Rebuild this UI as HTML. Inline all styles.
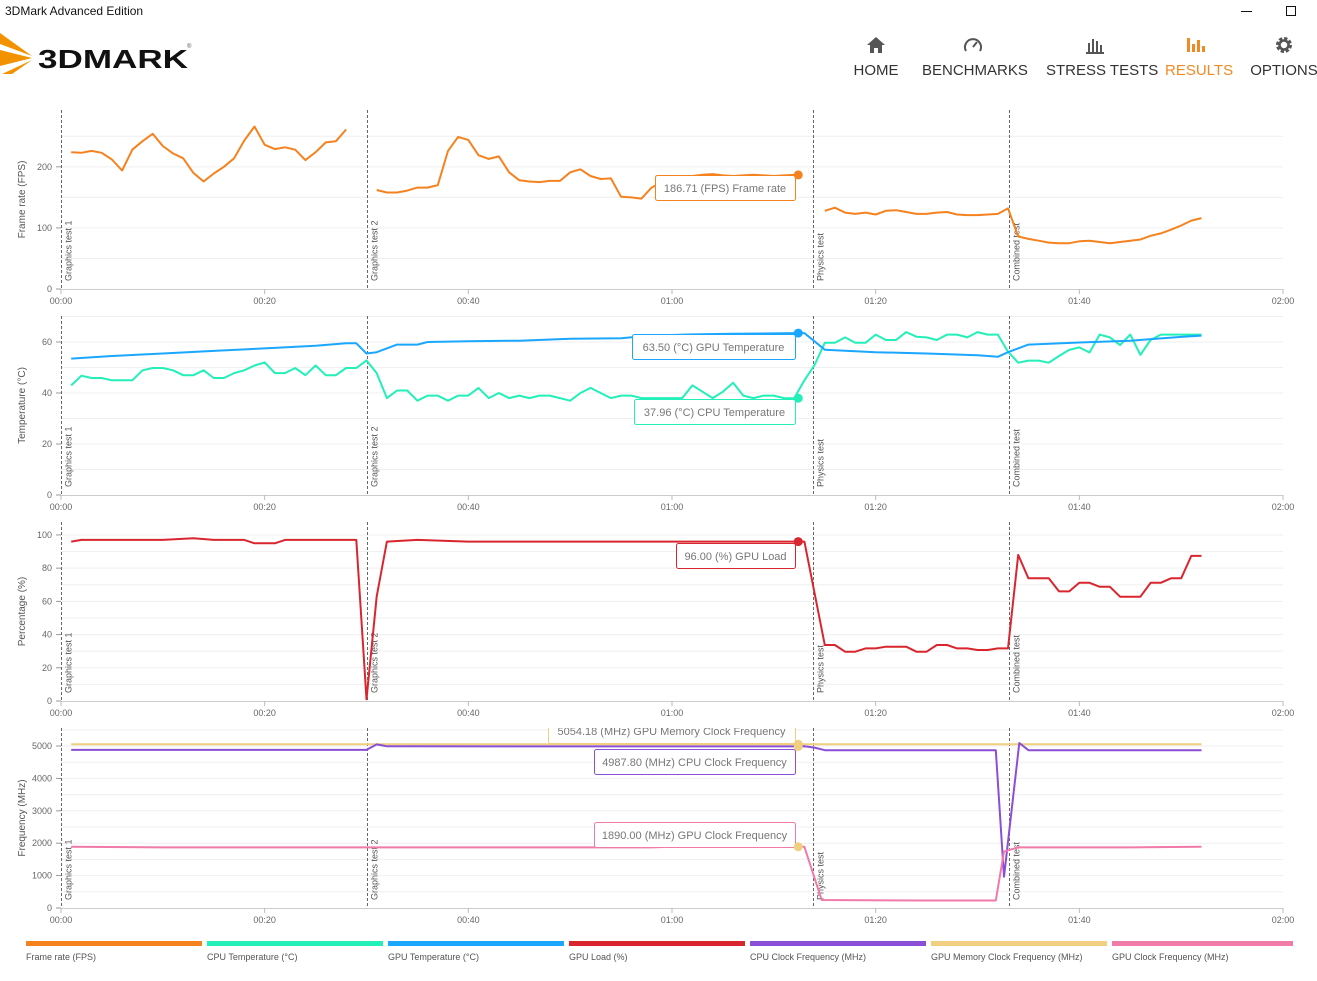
<!DOCTYPE html>
<html><head><meta charset="utf-8">
<style>
body{margin:0;width:1317px;height:981px;background:#fff;overflow:hidden;font-family:"Liberation Sans",sans-serif;position:relative}
.nav{position:absolute;top:36px;font-size:15px;color:#333;text-align:center;white-space:nowrap}
.nav svg{display:block;margin:0 auto 8px auto}
</style></head><body>
<div style="position:absolute;left:5px;top:4px;font-size:12px;color:#111">3DMark Advanced Edition</div>
<div style="position:absolute;left:1241px;top:11px;width:11px;height:1px;background:#111"></div>
<div style="position:absolute;left:1286px;top:6px;width:8px;height:8px;border:1px solid #111"></div>
<svg style="position:absolute;left:0;top:30px" width="200" height="48">
<polygon points="0,3 32,26 0,14" fill="#f39200"/><polygon points="0,20 32,28 0,36" fill="#f39200"/><polygon points="2,44 32,30 12,44" fill="#f39200"/>
<text x="38" y="38" font-family="Liberation Sans" font-weight="bold" font-size="26" fill="#111" textLength="150" lengthAdjust="spacingAndGlyphs">3DMARK</text>
<text x="187" y="18" font-size="6" fill="#555">®</text></svg>
<div class="nav" style="left:850px;width:52px">
<svg width="20" height="18"><polygon points="10,1 19,9 16,9 16,17 12,17 12,12 8,12 8,17 4,17 4,9 1,9" fill="#555"/></svg>HOME</div>
<div class="nav" style="left:922px;width:102px">
<svg width="20" height="18"><path d="M3,15 A8,8 0 1 1 17,15" fill="none" stroke="#555" stroke-width="2"/><line x1="10" y1="11" x2="14" y2="6" stroke="#555" stroke-width="2"/></svg>BENCHMARKS</div>
<div class="nav" style="left:1046px;width:98px">
<svg width="20" height="18"><rect x="3" y="7" width="2" height="9" fill="#555"/><rect x="7" y="3" width="2" height="13" fill="#555"/><rect x="11" y="5" width="2" height="11" fill="#555"/><rect x="15" y="9" width="2" height="7" fill="#555"/><rect x="1" y="16" width="18" height="2" fill="#555"/></svg>STRESS TESTS</div>
<div class="nav" style="left:1165px;width:64px;color:#f08a24">
<svg width="22" height="18"><rect x="1" y="2" width="3" height="14" fill="#f08a24"/><rect x="6" y="8" width="3" height="8" fill="#f08a24"/><rect x="11" y="4" width="3" height="12" fill="#f08a24"/><rect x="16" y="10" width="3" height="6" fill="#f08a24"/></svg>RESULTS</div>
<div class="nav" style="left:1250px;width:68px">
<svg width="20" height="18"><circle cx="10" cy="9" r="6" fill="none" stroke="#555" stroke-width="4" stroke-dasharray="3,1.7"/><circle cx="10" cy="9" r="4.5" fill="none" stroke="#555" stroke-width="2.5"/></svg>OPTIONS</div>
<svg id="chart" style="position:absolute;left:0;top:0" width="1317" height="981"></svg>
<script>
// ---- data ----
const fpsTimes=[1,2,3,4,5,6,7,8,9,10,11,12,13,14,15,16,17,18,19,20,21,22,23,24,25,26,27,28,null,
31,32,33,34,35,36,37,38,39,40,41,42,43,44,45,46,47,48,49,50,51,52,53,54,55,56,57,58,59,60,61,62,63,64,65,66,67,68,69,70,71,72,null,
75,76,77,78,79,80,81,82,83,84,85,86,87,88,89,90,91,92,93,94,95,96,97,98,99,100,101,102,103,104,105,106,107,108,109,110,111,112];
const fpsValues=[224,223,226,223,212,194,228,242,254,234,222,214,190,176,189,200,214,243,266,236,229,232,228,211,224,240,242,261,null,
162,158,158,161,166,166,170,226,249,244,219,213,217,191,178,176,175,177,177,191,196,185,180,181,151,150,148,166,175,180,183,185,187,188,186,185,186,187,186,185,186,186.71,null,
128,133,125,123,125,122,128,129,126,123,123,125,126,122,121,121,122,123,132,86,82,79,76,75,75,78,79,77,75,77,79,81,87,91,97,104,112,116];
const gpuTempTimes=[1,5,10,15,20,25,28,29,30,31,33,35,36,40,45,50,55,58,62,66,72,73,75,80,85,90,92,93,95,100,105,110,112];
const gpuTempValues=[53.5,54.5,55.5,56.5,57.5,58.5,59.5,59.5,55.5,56,59,59,60,60.3,60.5,61.3,61.5,62.5,63,63.2,63.5,63.5,57,56,55.5,54.8,54.2,56,59,59.8,60.5,62,62.5];
const cpuTempValues=[43,46.8,45.9,45.9,45,45,45,48.9,49.8,49.8,48.9,47,47,48.9,45.9,45.9,47.8,48.9,50.8,52,47.8,47.8,49.8,47,50.8,47,47,49.8,49.8,52.8,
47.8,38,41,41,37,39,39,37,39,39,42,38,40,38,39,38,39,39,38,37,40,42,40,38,39,39,38,38,38,38,38,43,40.5,38,40.5,44,39,38,39,39,38,37.96,
45,51,59.7,59.7,61.8,59.7,59.7,62.9,60.8,60.8,63.9,62.1,61.8,60.8,62.9,62.9,61.8,63.9,62.9,62.9,
56.2,51.9,52.7,52.7,51.9,54.5,56.9,57.9,55.9,62.9,61.8,58.8,62.9,55,60.8,62.9,62.9,62.9,62.9,62.9];
const loadTimes=[1,2,5,10,13,15,18,19,21,22,25,29,30,31,32,35,40,45,50,55,60,65,70,72,73,
75,76,77,78,79,80,81,82,83,84,85,86,87,88,89,90,91,92,93,94,95,96,97,98,99,100,101,102,103,104,105,106,107,108,109,110,111,112];
const loadValues=[96,97,97,97,98,97,97,95,95,97,97,97,1,63,96,97,96,96,96,96,96,96,96,96,96,
33.7,33.7,29.7,29.7,31.7,31.7,32.7,32.7,32.7,29.7,29.7,33.7,33.7,31.7,31.7,30.7,30.7,31.7,31.7,
88,73.9,73.9,73.9,66,66,71.2,71.2,68.8,68.8,62.8,62.8,62.8,71.2,71.2,73.9,73.9,87.4,87.4];
const cpuClockTimes=[1,29,30,31,32,72,73,74,75,91.8,92.6,94.1,95,112];
const cpuClockValues=[4880,4880,4880,5050,4990,4988,4990,4950,4870,4870,966,5093,4870,4870];
const memClockTimes=[1,112];
const memClockValues=[5054,5054];
const gpuClockTimes=[1,10,58,60,73,74.7,85,91.8,92.6,94,105,112];
const gpuClockValues=[1890,1870,1870,1890,1890,247,230,230,1740,1870,1870,1890];
const sections=[{t:0,label:"Graphics test 1"},{t:30.06,label:"Graphics test 2"},{t:73.8,label:"Physics test"},{t:93.1,label:"Combined test"}];
const xTicks=["00:00","00:20","00:40","01:00","01:20","01:40","02:00"];
// ---- layout ----
const svg=document.getElementById('chart');const NS='http://www.w3.org/2000/svg';
const X0=61,X1=1283,TMAX=120;
const x=t=>X0+(X1-X0)*t/TMAX;
function mk(tag,attrs,parent){const e=document.createElementNS(NS,tag);for(const k in attrs)e.setAttribute(k,attrs[k]);(parent||svg).appendChild(e);return e;}
const panels=[
 {top:110,bot:289,max:293,grid:50,ticks:[0,100,200],title:"Frame rate (FPS)"},
 {top:316,bot:495,max:70.2,grid:10,ticks:[0,20,40,60],title:"Temperature (°C)"},
 {top:522,bot:701,max:107.8,grid:10,ticks:[0,20,40,60,80,100],title:"Percentage (%)"},
 {top:728,bot:908,max:5556,grid:500,ticks:[0,1000,2000,3000,4000,5000],title:"Frequency (MHz)"}];
panels.forEach((p,i)=>{
 p.y=v=>p.bot-(p.bot-p.top)*v/p.max;
 const g=mk('g',{});
 
 
 for(let v=p.grid;v<=p.max;v+=p.grid){const l=mk('line',{x1:X0,x2:X1,y1:p.y(v),y2:p.y(v),stroke:'#efefef','stroke-width':1},g);}
 mk('line',{x1:X0,x2:X1,y1:p.bot+0.5,y2:p.bot+0.5,stroke:'#ccc'},g);
 p.ticks.forEach(v=>{
  const tk=mk('text',{x:52,y:p.y(v)+3,'text-anchor':'end','font-size':9,fill:'#666'},g);tk.textContent=v;
  
  mk('line',{x1:56,x2:61,y1:p.y(v),y2:p.y(v),stroke:'#999'},g);});
 xTicks.forEach((s,j)=>{const tx=x(j*20);
  mk('line',{x1:tx,x2:tx,y1:p.bot,y2:p.bot+5,stroke:'#bbb'},g);
  const t=mk('text',{x:tx,y:p.bot+15,'text-anchor':'middle','font-size':9,fill:'#666'},g);t.textContent=s;
  });
 const ttl=mk('text',{x:0,y:0,'text-anchor':'middle','font-size':10,fill:'#555',transform:`translate(25,${(p.top+p.bot)/2}) rotate(-90)`},g);ttl.textContent=p.title;
 
 sections.forEach(s=>{const sx=Math.round(x(s.t))+0.5;
  const l=mk('line',{x1:sx,x2:sx,y1:p.top,y2:p.bot,stroke:'#666','stroke-dasharray':'3,2'},g);
  
  const t=mk('text',{x:0,y:0,'font-size':9,fill:'#555',transform:`translate(${sx+10},${p.bot-8}) rotate(-90)`},g);t.textContent=s.label;
  });
});
function line(p,times,vals,color,name){
 let d='',pen=false;
 times.forEach((t,i)=>{if(t===null||vals[i]===null){pen=false;return;}d+=(pen?'L':'M')+x(t).toFixed(1)+','+p.y(vals[i]).toFixed(1);pen=true;});
 const e=mk('path',{d:d,fill:'none',stroke:color,'stroke-width':2,'stroke-linejoin':'round'});
 
 
}
const cpuTempTimes=[];for(let t=1;t<=112;t++)cpuTempTimes.push(t);
line(panels[0],fpsTimes,fpsValues,'#f5821f','frame-rate-line');
line(panels[1],cpuTempTimes,cpuTempValues,'#22f0b8','cpu-temperature-line');
line(panels[1],gpuTempTimes,gpuTempValues,'#1ba6ff','gpu-temperature-line');
line(panels[2],loadTimes,loadValues,'#d9262e','gpu-load-line');
line(panels[3],memClockTimes,memClockValues,'#f0cf80','gpu-memory-clock-line');
line(panels[3],cpuClockTimes,cpuClockValues,'#8a4fd6','cpu-clock-line');
line(panels[3],gpuClockTimes,gpuClockValues,'#f07aa8','gpu-clock-line');
// tooltips
const tips=[
 {p:0,v:186.71,t:72.3,bx:655,by:175,w:140,txt:"186.71 (FPS) Frame rate",c:'#f5821f'},
 {p:1,v:63.5,t:72.3,bx:632,by:334,w:163,txt:"63.50 (°C) GPU Temperature",c:'#1ba6ff'},
 {p:1,v:37.96,t:72.3,bx:634,by:399,w:161,txt:"37.96 (°C) CPU Temperature",c:'#22f0b8'},
 {p:2,v:96,t:72.3,bx:676,by:543,w:119,txt:"96.00 (%) GPU Load",c:'#d9262e'},
 {p:3,v:5054.18,t:72.3,bx:548,by:718,w:247,txt:"5054.18 (MHz) GPU Memory Clock Frequency",c:'#f0cf80'},
 {p:3,v:4987.8,t:72.3,bx:594,by:749,w:201,txt:"4987.80 (MHz) CPU Clock Frequency",c:'#8a4fd6'},
 {p:3,v:1890,t:72.3,bx:594,by:822,w:201,txt:"1890.00 (MHz) GPU Clock Frequency",c:'#f07aa8'}];
tips.forEach(tp=>{
 const p=panels[tp.p];
 const clip=tp.p===3&&tp.by<p.top;
 const g=mk('g',{});
 
 
 if(clip){const cp=mk('clipPath',{id:'cp1'},g);mk('rect',{x:0,y:p.top,width:1317,height:300},cp);g.setAttribute('clip-path','url(#cp1)');}
 mk('rect',{x:tp.bx+0.5,y:tp.by+0.5,width:tp.w,height:25,rx:2,fill:'#fff',stroke:tp.c},g);
 const t=mk('text',{x:tp.bx+tp.w/2,y:tp.by+17,'text-anchor':'middle','font-size':11,fill:'#777'},g);t.textContent=tp.txt;
 mk('circle',{cx:x(tp.t)+1,cy:p.y(tp.v),r:4.5,fill:tp.p===3?'#f0cf80':tp.c},g);
});
// legend
const legendNames=["Frame rate (FPS)","CPU Temperature (°C)","GPU Temperature (°C)","GPU Load (%)","CPU Clock Frequency (MHz)","GPU Memory Clock Frequency (MHz)","GPU Clock Frequency (MHz)"];
const legendColors=['#f5821f','#22f0b8','#1ba6ff','#d9262e','#8a4fd6','#f0cf80','#f07aa8'];
legendNames.forEach((n,i)=>{const lx=26+i*181;
 const g=mk('g',{});
 
 
 mk('rect',{x:lx,y:941,width:i==6?181:176,height:5,fill:legendColors[i]},g);
 const t=mk('text',{x:lx,y:960,'font-size':9,fill:'#555'},g);t.textContent=n;});
</script>
</body></html>
